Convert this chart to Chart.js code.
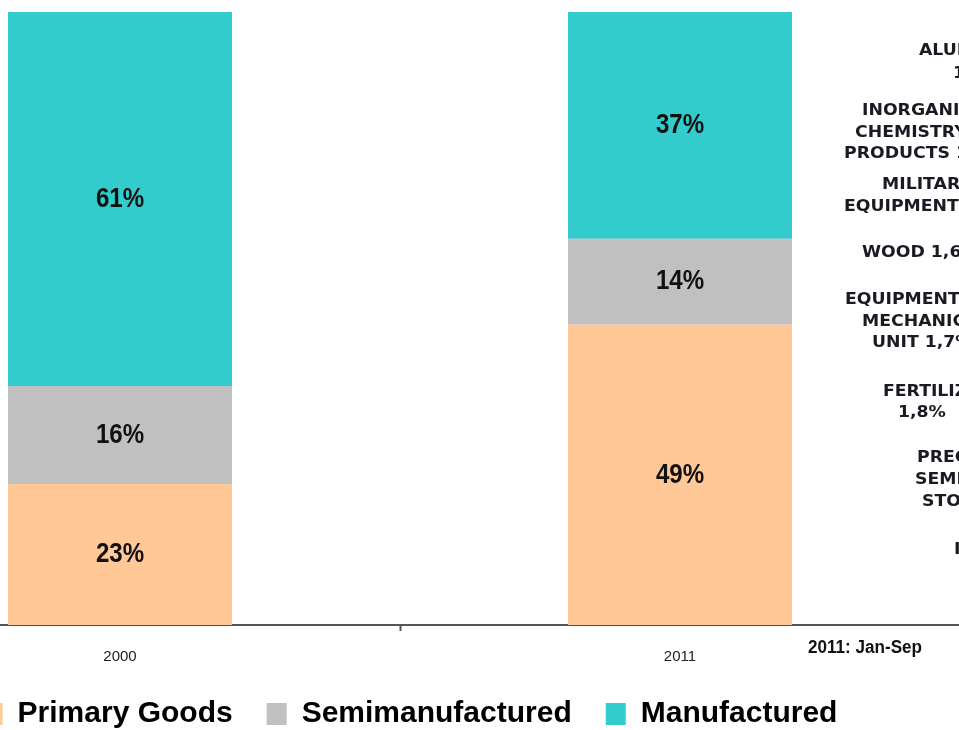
<!DOCTYPE html>
<html>
<head>
<meta charset="utf-8">
<script src="https://cdn.jsdelivr.net/npm/chart.js@4/dist/chart.umd.min.js"></script>
<style>
  html, body { margin: 0; padding: 0; background: #fff; overflow: hidden; }
  #wrap { position: absolute; left: -160px; top: 0; width: 1140px; height: 730px; }
</style>
</head>
<body>
<div id="wrap"><canvas id="chart"></canvas></div>
<script>
  const years = ["2000", "2011"];
  const primaryGoods = [23, 49];
  const semimanufactured = [16, 14];
  const manufactured = [61, 37];

  // cut-off labels of the neighbouring panel (right edge)
  const sideTexts = [
    "ALUMINIUM", "1,1%",
    "INORGANIC", "CHEMISTRY", "PRODUCTS 1,4%",
    "MILITARY", "EQUIPMENT 1,5%",
    "WOOD 1,6%",
    "EQUIPMENT FOR", "MECHANICAL", "UNIT 1,7%",
    "FERTILIZERS", "1,8%",
    "PRECIOUS", "SEMI-PRECIOUS", "STONES",
    "IRON"
  ];
  const sidePos = [
    [919, 51], [953, 74],
    [862, 111], [855, 133], [844, 154],
    [882, 185], [844, 207],
    [862, 253],
    [845, 300], [862, 322], [872, 343],
    [883, 392], [898, 413],
    [917, 458], [915, 480], [922, 502],
    [954, 550]
  ];

  const sans = '"Liberation Sans", Arial, sans-serif';

  // draw text squeezed/stretched horizontally
  function drawText(ctx, text, x, y, sx) {
    ctx.save();
    ctx.translate(x, y);
    ctx.scale(sx, 1);
    ctx.fillText(text, 0, 0);
    ctx.restore();
  }

  const barLabels = {
    id: "barLabels",
    afterDatasetsDraw(chart) {
      const ctx = chart.ctx;
      ctx.save();
      ctx.font = "bold 28px " + sans;
      ctx.fillStyle = "#111";
      ctx.textAlign = "center";
      ctx.textBaseline = "middle";
      chart.data.datasets.forEach((ds, i) => {
        chart.getDatasetMeta(i).data.forEach((bar, j) => {
          drawText(ctx, ds.data[j] + "%", bar.x, (bar.y + bar.base) / 2, 0.86);
        });
      });
      ctx.restore();
    }
  };

  const extraText = {
    id: "extraText",
    afterDraw(chart) {
      const ctx = chart.ctx;
      const right = chart.chartArea.right; // page x = 960
      ctx.save();
      ctx.fillStyle = "#1a1a22";
      ctx.textBaseline = "middle";
      ctx.textAlign = "left";
      ctx.font = "bold 16px 'DejaVu Sans', Verdana, sans-serif";
      sideTexts.forEach((t, i) => {
        drawText(ctx, t, right - (960 - sidePos[i][0]), sidePos[i][1], 1.08);
      });
      ctx.fillStyle = "#111";
      ctx.font = "bold 18px " + sans;
      drawText(ctx, "2011: Jan-Sep", right - (960 - 808), 648, 0.95);
      ctx.restore();
    }
  };

  const chartContainer = document.getElementById("chart");

  new Chart(chartContainer, {
    type: "bar",
    data: {
      labels: years,
      datasets: [
        { label: "Primary Goods", data: primaryGoods, backgroundColor: "#FFC896" },
        { label: "Semimanufactured", data: semimanufactured, backgroundColor: "#C0C0C0" },
        { label: "Manufactured", data: manufactured, backgroundColor: "#33CCCC" }
      ]
    },
    options: {
      responsive: true,
      maintainAspectRatio: false,
      animation: false,
      layout: { padding: { top: 12, left: 0, right: 0, bottom: -9 } },
      datasets: { bar: { categoryPercentage: 1, barPercentage: 0.4 } },
      scales: {
        x: {
          stacked: true,
          grid: { display: true, drawOnChartArea: false, offset: true, tickLength: 6, color: "#555", tickWidth: 2 },
          border: { display: true, color: "#555", width: 2 },
          ticks: { color: "#222", padding: 17, font: { family: sans, size: 15 } },
          afterFit(scale) { scale.height = 40; }
        },
        y: {
          stacked: true,
          position: "right",
          min: 0,
          max: 100,
          ticks: { display: false },
          grid: { display: false },
          border: { display: false },
          afterFit(scale) { scale.width = 20; }
        }
      },
      plugins: {
        legend: {
          position: "bottom",
          labels: {
            boxWidth: 20,
            boxHeight: 22,
            padding: 34,
            color: "#000",
            font: { family: sans, size: 30, weight: "bold" }
          }
        },
        tooltip: { enabled: false }
      }
    },
    plugins: [barLabels, extraText]
  });
</script>
</body>
</html>
